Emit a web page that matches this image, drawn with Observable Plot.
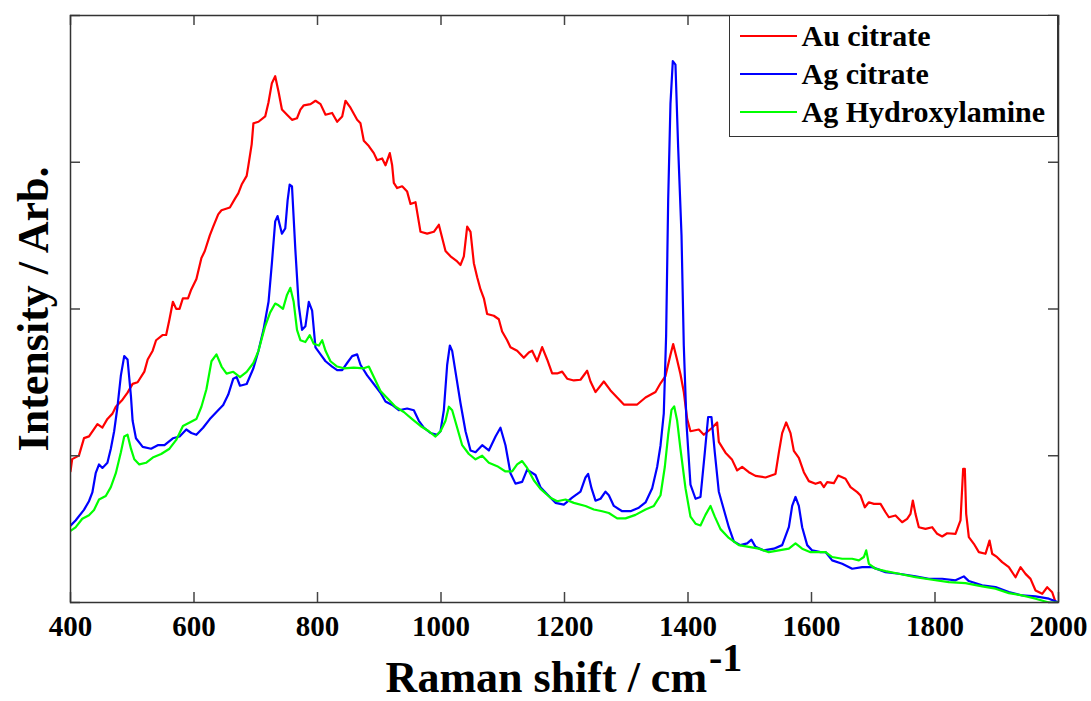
<!DOCTYPE html>
<html>
<head>
<meta charset="utf-8">
<script src="https://cdn.jsdelivr.net/npm/d3@7"></script>
<script src="https://cdn.jsdelivr.net/npm/@observablehq/plot@0.6"></script>
<style>
  html, body { margin: 0; padding: 0; background: #fff; }
  #wrap { position: relative; width: 1091px; height: 701px; font-family: "Liberation Serif", "Times New Roman", serif; font-weight: bold; color: #000; }
  #legend { position: absolute; left: 729px; top: 15px; width: 329px; height: 122px; box-sizing: border-box; border: 1.5px solid #333; background: #fff; }
  .row { position: absolute; left: 9.5px; height: 38px; display: flex; align-items: center; font-size: 30px; white-space: nowrap; }
  .sw { display: inline-block; width: 57px; height: 2px; margin-right: 5px; }
  #xtitle { position: absolute; left: 70px; width: 988px; top: 656px; text-align: center; font-size: 44px; line-height: 44px; white-space: nowrap; }
  #xtitle span { position: relative; top: -21px; font-size: 40px; margin-left: 2px; }
</style>
</head>
<body>
<div id="wrap">
  <div id="chart"></div>
  <div id="legend"></div>
  <div id="xtitle">Raman shift / cm<span>-1</span></div>
</div>
<script>
const seriesNames = ["Au citrate", "Ag citrate", "Ag Hydroxylamine"];
const seriesColors = ["#ff0000", "#0000ff", "#00ff00"];
const xTicks = [400, 600, 800, 1000, 1200, 1400, 1600, 1800, 2000];
const yTicks = [0, 1, 2, 3, 4];
const yLabel = "Intensity / Arb.";

// [Raman shift (cm^-1), intensity (arb.)]
const auCitrate = [[400,0.894],[402.7,0.977],[413.6,1.001],[421.9,1.120],[430,1.132],[443.6,1.216],[451.7,1.192],[459.8,1.251],[468,1.287],[473.4,1.334],[484.2,1.382],[492.4,1.430],[500.6,1.490],[508.7,1.501],[519.6,1.573],[525,1.656],[533.1,1.716],[538.6,1.787],[549.5,1.823],[554.9,1.823],[560.3,1.930],[565.8,2.049],[571.2,2.001],[576.6,2.001],[582,2.073],[590.3,2.073],[595.6,2.133],[603.9,2.204],[612,2.347],[617.5,2.395],[625.6,2.502],[631.1,2.561],[639.2,2.645],[644.5,2.673],[658.1,2.692],[666.4,2.752],[671.7,2.788],[677.2,2.848],[685.3,2.907],[688.1,2.979],[693.4,3.122],[696.2,3.265],[704.4,3.276],[715.3,3.312],[720.6,3.407],[726.1,3.539],[731.5,3.586],[737,3.479],[742.4,3.359],[750.6,3.324],[758.7,3.289],[766.8,3.300],[772.3,3.359],[777.8,3.388],[788.7,3.396],[796.8,3.419],[804.9,3.396],[813,3.324],[823.7,3.336],[831.8,3.276],[840,3.312],[845.3,3.419],[853.4,3.372],[864.2,3.289],[869.6,3.265],[875,3.146],[883.1,3.110],[891.2,3.062],[896.6,3.014],[904.7,3.026],[910.1,2.979],[917.1,3.062],[920.9,2.979],[923.6,2.859],[929,2.824],[937.1,2.836],[945.2,2.800],[950.6,2.716],[958.7,2.728],[966.8,2.526],[977.6,2.514],[988.4,2.526],[996.5,2.574],[1007.3,2.395],[1015.4,2.359],[1026.2,2.324],[1031.6,2.300],[1037,2.359],[1042.4,2.561],[1047.8,2.526],[1053.2,2.312],[1058.6,2.216],[1064,2.133],[1069.4,2.073],[1074.7,1.966],[1085.5,1.954],[1093.6,1.930],[1099,1.847],[1107.1,1.787],[1112.5,1.740],[1123.3,1.716],[1134.1,1.668],[1142.2,1.704],[1147.6,1.716],[1155.7,1.644],[1163.8,1.740],[1171.9,1.656],[1180,1.561],[1188.1,1.561],[1196.2,1.573],[1204.3,1.525],[1215.1,1.513],[1225.9,1.518],[1236.7,1.579],[1242.1,1.506],[1250.2,1.434],[1263.7,1.506],[1274.5,1.445],[1285.3,1.397],[1296.1,1.349],[1317.7,1.349],[1331.2,1.397],[1347.4,1.434],[1355.5,1.494],[1363.5,1.543],[1371.6,1.688],[1376,1.761],[1382.4,1.652],[1387.8,1.555],[1393.2,1.434],[1398.6,1.252],[1404,1.167],[1417.5,1.179],[1425.6,1.143],[1439.1,1.191],[1447.2,1.227],[1449.9,1.094],[1460.7,1.021],[1471.5,0.972],[1479.6,0.900],[1487.7,0.924],[1498.5,0.888],[1509.3,0.863],[1525.5,0.852],[1541.7,0.876],[1547.1,1.021],[1552.5,1.154],[1559,1.227],[1566,1.154],[1571.4,1.033],[1579.5,0.985],[1587.6,0.888],[1595.7,0.827],[1606.5,0.809],[1614.6,0.820],[1620,0.786],[1625.4,0.820],[1636.2,0.813],[1643.2,0.865],[1655.1,0.843],[1663.2,0.786],[1674,0.752],[1679.4,0.729],[1686.4,0.649],[1692.9,0.683],[1701,0.672],[1711.8,0.672],[1719.9,0.615],[1725.3,0.581],[1736.1,0.593],[1746.8,0.547],[1754.9,0.570],[1760.3,0.604],[1764.1,0.695],[1768.4,0.604],[1773.8,0.513],[1784.6,0.502],[1795.4,0.513],[1803.5,0.468],[1811.6,0.450],[1819.7,0.472],[1833.2,0.468],[1841.3,0.559],[1845.6,0.911],[1848.3,0.911],[1850.5,0.604],[1854.8,0.445],[1862.9,0.400],[1871,0.343],[1881.8,0.332],[1888.3,0.422],[1892.6,0.332],[1900.7,0.309],[1908.8,0.275],[1919.6,0.241],[1930.4,0.172],[1938.5,0.241],[1946.6,0.195],[1954.7,0.161],[1962.8,0.082],[1973.6,0.059],[1981.7,0.104],[1989.8,0.070],[1995.2,0.002],[2000,0]];

const agCitrate = [[400,0.524],[408.2,0.559],[421.8,0.631],[429.9,0.690],[435.4,0.750],[440.8,0.881],[446.2,0.941],[451.7,0.917],[459.8,0.952],[465.3,1.048],[470.7,1.167],[476.1,1.334],[481.6,1.548],[487,1.679],[492.4,1.656],[497.9,1.405],[500.6,1.238],[506,1.119],[516.9,1.060],[530.5,1.048],[541.3,1.072],[552.2,1.072],[565.8,1.119],[576.7,1.131],[587.5,1.179],[595.7,1.155],[603.8,1.143],[614.7,1.191],[625.6,1.250],[636.4,1.298],[647.3,1.346],[655.5,1.417],[663.6,1.525],[669.1,1.536],[674.5,1.477],[685.3,1.489],[696.2,1.596],[704.4,1.715],[712.5,1.858],[720.7,2.049],[726.1,2.311],[731.5,2.597],[735.3,2.633],[742.4,2.513],[747.8,2.549],[751.6,2.740],[754.9,2.847],[758.7,2.835],[764.1,2.406],[769.6,2.025],[775,1.858],[780.4,1.882],[785.9,2.049],[791.3,1.989],[796.7,1.739],[804.9,1.691],[813,1.644],[823.7,1.608],[831.8,1.584],[840,1.584],[848,1.632],[856.1,1.679],[864.2,1.691],[869.6,1.620],[880.4,1.548],[891.2,1.489],[902,1.429],[910.1,1.370],[920.9,1.346],[931.7,1.310],[945.2,1.322],[956,1.310],[964.1,1.238],[972.2,1.191],[983,1.155],[993.8,1.143],[999.2,1.167],[1004.6,1.310],[1010,1.620],[1014.3,1.751],[1018.1,1.715],[1023.5,1.572],[1031.6,1.358],[1039.7,1.167],[1047.8,1.036],[1055.9,1.024],[1066.7,1.072],[1077.5,1.036],[1088.3,1.131],[1096.3,1.191],[1104.4,1.072],[1112.5,0.881],[1120.6,0.810],[1131.4,0.822],[1139.5,0.905],[1153,0.869],[1161.1,0.786],[1171.9,0.738],[1185.4,0.679],[1198.9,0.667],[1212.4,0.714],[1225.9,0.755],[1234,0.852],[1238.3,0.876],[1243.7,0.779],[1250.2,0.694],[1258.3,0.707],[1266.4,0.755],[1271.8,0.731],[1279.9,0.658],[1293.4,0.622],[1306.9,0.622],[1320.4,0.646],[1331.2,0.682],[1342,0.779],[1350.1,0.925],[1355.5,1.070],[1360.8,1.289],[1364.6,1.822],[1367.9,2.743],[1371.6,3.398],[1375.4,3.689],[1379.7,3.665],[1384,3.107],[1389.5,2.501],[1393.2,1.749],[1397.6,1.216],[1404,0.803],[1412.2,0.707],[1420.2,0.719],[1427.2,1.022],[1432.6,1.264],[1438,1.264],[1443.4,1.022],[1449.9,0.755],[1458,0.634],[1466.1,0.513],[1474.2,0.416],[1484.8,0.391],[1495.8,0.403],[1502.8,0.428],[1509.3,0.379],[1522.8,0.355],[1539,0.367],[1552.5,0.391],[1563.3,0.513],[1568.7,0.658],[1574.1,0.719],[1579.5,0.658],[1584.9,0.513],[1593,0.391],[1601.1,0.355],[1614.5,0.343],[1622.7,0.344],[1633.5,0.287],[1649.7,0.264],[1665.9,0.230],[1682.1,0.241],[1698.3,0.241],[1719.9,0.207],[1741.5,0.196],[1768.4,0.178],[1790.1,0.162],[1811.6,0.162],[1833.2,0.151],[1846.7,0.178],[1854.8,0.146],[1876.4,0.117],[1898,0.105],[1919.6,0.071],[1941.2,0.048],[1962.8,0.042],[1984.4,0.026],[2000,0]];

const agHydroxylamine = [[400,0.488],[408.2,0.512],[419.1,0.571],[429.9,0.595],[438.1,0.631],[446.2,0.702],[457.1,0.726],[465.3,0.786],[473.4,0.881],[481.6,1.024],[487,1.131],[492.4,1.143],[497.9,1.048],[503.3,0.976],[511.4,0.941],[522.3,0.952],[533.2,0.988],[546.8,1.012],[560.3,1.048],[571.2,1.108],[582.1,1.203],[593,1.227],[603.8,1.250],[612,1.334],[620.1,1.453],[628.3,1.644],[636.4,1.691],[644.6,1.608],[652.7,1.560],[663.6,1.572],[674.5,1.536],[685.3,1.572],[696.2,1.632],[704.4,1.715],[715.2,1.882],[723.4,1.977],[731.5,2.037],[736.9,2.025],[744.1,2.001],[750.6,2.096],[756,2.144],[761.4,2.049],[766.8,1.858],[772.3,1.787],[780.4,1.775],[787.5,1.822],[793.9,1.763],[802.2,1.751],[807.6,1.787],[813,1.715],[821,1.644],[831.8,1.608],[842.6,1.596],[858.8,1.601],[875,1.596],[883.1,1.608],[891.2,1.536],[902,1.441],[912.8,1.393],[926.3,1.334],[939.8,1.298],[953.3,1.250],[966.8,1.203],[980.3,1.167],[991.1,1.131],[999.2,1.167],[1007.3,1.238],[1012.7,1.334],[1018.1,1.310],[1026.2,1.191],[1034.3,1.072],[1045.1,1.012],[1055.9,0.976],[1066.7,1.000],[1077.5,0.952],[1091,0.929],[1104.4,0.893],[1115.2,0.893],[1123.3,0.941],[1131.4,0.964],[1139.5,0.917],[1150.3,0.833],[1161.1,0.774],[1177.3,0.714],[1188.1,0.690],[1201.6,0.702],[1215.1,0.679],[1234,0.658],[1247.5,0.634],[1261,0.622],[1271.8,0.610],[1285.3,0.573],[1298.8,0.573],[1315,0.597],[1331.2,0.634],[1344.7,0.658],[1355.5,0.731],[1362.5,0.925],[1367.9,1.143],[1373.3,1.313],[1377.6,1.337],[1382.4,1.240],[1387.8,1.046],[1395.9,0.779],[1404,0.585],[1412.2,0.537],[1420.2,0.525],[1428.3,0.597],[1436.4,0.658],[1443.4,0.585],[1452.6,0.500],[1466.1,0.440],[1482.3,0.391],[1498.5,0.379],[1514.7,0.367],[1530.9,0.343],[1547.1,0.355],[1563.3,0.367],[1574.1,0.403],[1584.9,0.367],[1598.4,0.343],[1622.7,0.344],[1633.5,0.310],[1649.7,0.298],[1665.9,0.298],[1676.7,0.287],[1684.8,0.310],[1688.6,0.355],[1692.9,0.264],[1703.7,0.230],[1719.9,0.214],[1741.5,0.196],[1768.4,0.173],[1795.4,0.155],[1822.4,0.139],[1849.4,0.132],[1876.4,0.110],[1898,0.094],[1919.6,0.064],[1941.2,0.048],[1962.8,0.026],[1984.4,0],[2000,0]];

const seriesData = [auCitrate, agCitrate, agHydroxylamine];
const font = '"Liberation Serif", "Times New Roman", serif';

const plot = Plot.plot({
  width: 1091,
  height: 701,
  marginLeft: 70,
  marginRight: 33,
  marginTop: 15,
  marginBottom: 99,
  style: { fontFamily: font, fontWeight: "bold", color: "#000", background: "#fff", overflow: "visible" },
  x: { domain: [400, 2000], axis: null },
  y: { domain: [0, 4], axis: null },
  marks: [
    ...seriesData.map((s, i) => Plot.line(s, {
      x: d => d[0], y: d => d[1], stroke: seriesColors[i], strokeWidth: 2.2, clip: true
    })),
    Plot.ruleX(xTicks, { x: d => d, insetTop: 577, stroke: "#444", strokeWidth: 1.5 }),
    Plot.ruleX(xTicks, { x: d => d, insetBottom: 577, stroke: "#444", strokeWidth: 1.5 }),
    Plot.ruleY(yTicks, { y: d => d, insetRight: 978, stroke: "#444", strokeWidth: 1.5 }),
    Plot.ruleY(yTicks, { y: d => d, insetLeft: 978, stroke: "#444", strokeWidth: 1.5 }),
    Plot.frame({ stroke: "#333", strokeWidth: 1.5 }),
    Plot.axisX(xTicks, { tickSize: 0, tickPadding: 13, fontSize: 29, fontWeight: "bold", fontFamily: font, tickFormat: d => String(d), fill: "#000" }),
    Plot.text([yLabel], { text: d => d, frameAnchor: "left", dx: -37, rotate: -90, fontSize: 44, fontWeight: "bold", fontFamily: font, fill: "#000", textAnchor: "middle" })
  ]
});
document.getElementById("chart").appendChild(plot);

const legend = document.getElementById("legend");
seriesNames.forEach((name, i) => {
  const row = document.createElement("div");
  row.className = "row";
  row.style.top = (1 + 38 * i) + "px";
  const sw = document.createElement("span");
  sw.className = "sw";
  sw.style.background = seriesColors[i];
  const t = document.createElement("span");
  t.textContent = name;
  row.appendChild(sw);
  row.appendChild(t);
  legend.appendChild(row);
});
</script>
</body>
</html>
